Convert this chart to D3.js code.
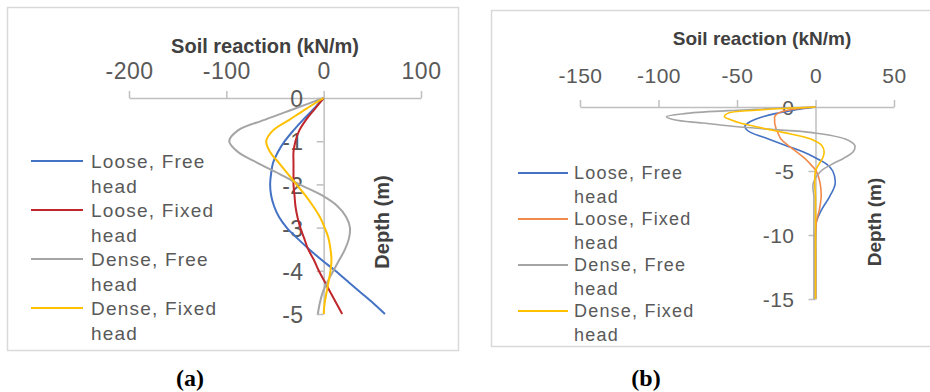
<!DOCTYPE html>
<html><head><meta charset="utf-8">
<script src="https://cdn.jsdelivr.net/npm/d3@7"></script>
<style>
html,body{margin:0;padding:0;background:#fff;}
svg{display:block;}
</style></head>
<body>
<svg id="c" width="930" height="392"></svg>
<script>
// ---------- DATA ----------
const seriesNames = ["Loose, Free head", "Loose, Fixed head", "Dense, Free head", "Dense, Fixed head"];

// Panel (a): depth (m)
const depthA = [0,-0.25,-0.5,-0.75,-1,-1.25,-1.5,-1.75,-2,-2.25,-2.5,-2.75,-3,-3.25,-3.5,-3.75,-4,-4.25,-4.5,-4.75,-5];
const looseFreeA  = [0,-10,-21,-31,-40,-47,-52,-54,-55,-54,-51,-46,-38,-27,-15,-2,12,25,38,51,63];
const looseFixedA = [0,-9,-18,-25,-29,-31,-31,-31,-31,-30,-29,-27,-24,-20,-16,-10,-5,1,7,13,19];
const denseFreeA  = [0,-30,-60,-88,-97,-88,-68,-46,-25,-2,14,23,27,26,22,16,10,4,-1,-4,-6];
const denseFixedA = [0,-18,-35,-52,-59,-55,-46,-37,-28,-19,-11,-4,1,5,7,8,7,5,3,1,0];

// Panel (b): depth (m)
const depthB = [0,-0.25,-0.5,-0.75,-1,-1.25,-1.5,-1.75,-2,-2.5,-3,-3.5,-4,-4.5,-5,-6,-7,-8,-9,-10,-12,-15];
const looseFreeB  = [0,-14,-25,-33,-39,-43,-45,-44,-41,-30,-19,-8,0.5,7.5,11,12.5,9,4,0.5,0,0,0];
const looseFixedB = [0,-18,-24,-26,-26,-26,-25.5,-25,-24,-22,-17.5,-12,-7,-3,0.4,3,3.6,2.5,0.5,0,0,0];
const denseFreeB  = [0,-50,-82,-95,-90,-72,-53,-28,-2,19,25,24,18,10,3.5,-1.5,-1,-1,-1,-1,-1,-1];
const denseFixedB = [0,-38,-56,-58,-54,-48,-39,-30,-20,-3,4,5.5,4.5,2,0,-0.5,0,0,0,0,0,0];

const xTicksA = [-200,-100,0,100];
const yTicksA = [0,-1,-2,-3,-4,-5];
const xTicksB = [-150,-100,-50,0,50];
const yTicksB = [0,-5,-10,-15];

const colorsA = ["#4472C4","#C0272D","#A5A5A5","#FFC000"];
const colorsB = ["#4472C4","#F08A4B","#A5A5A5","#FFC000"];

// ---------- DRAW ----------
const svg = d3.select("#c");
const FONT = "'Liberation Sans', Arial, sans-serif";
const fmt = d => String(d);

// frames
svg.append("rect").attr("x",7.5).attr("y",7.5).attr("width",451).attr("height",343)
  .attr("fill","#fff").attr("stroke","#D9D9D9").attr("stroke-width",1.5);
svg.append("rect").attr("x",491.5).attr("y",10.5).attr("width",450).attr("height",336)
  .attr("fill","#fff").attr("stroke","#D9D9D9").attr("stroke-width",1.5);

function panel(cfg){
  const g = svg.append("g");
  const x = d3.scaleLinear().domain(cfg.xDomain).range(cfg.xRange);
  const y = d3.scaleLinear().domain(cfg.yDomain).range(cfg.yRange);

  // top x axis
  const xa = g.append("g").attr("transform",`translate(0,${cfg.yRange[0]})`)
    .call(d3.axisTop(x).tickValues(cfg.xTicks).tickSize(7).tickSizeOuter(0).tickFormat(fmt));
  xa.select(".domain").attr("stroke","#BFBFBF").attr("stroke-width",1.5);
  xa.selectAll(".tick line").attr("stroke","#BFBFBF").attr("stroke-width",1.5);
  xa.selectAll(".tick text").attr("y",cfg.xLabelDy).attr("dy",null)
    .attr("font-family",FONT).attr("font-size",cfg.tickFont).attr("fill","#595959")
    .attr("letter-spacing",cfg.tickLs);

  // vertical axis at x=0
  const ya = g.append("g").attr("transform",`translate(${x(0)},0)`)
    .call(d3.axisLeft(y).tickValues(cfg.yTicks).tickSize(7).tickSizeOuter(0).tickFormat(fmt));
  ya.select(".domain").attr("stroke","#BFBFBF").attr("stroke-width",1.5);
  ya.selectAll(".tick line").attr("stroke","#BFBFBF").attr("stroke-width",1.5);
  ya.selectAll(".tick text").attr("x",-cfg.yLabelGap).attr("dy","0.38em")
    .attr("font-family",FONT).attr("font-size",cfg.tickFont).attr("fill","#595959")
    .attr("letter-spacing",cfg.tickLs);

  // lines
  const line = d3.line().x(d=>x(d[0])).y(d=>y(d[1])).curve(d3.curveCatmullRom.alpha(0.5));
  cfg.series.forEach((s,i)=>{
    const pts = s.map((v,k)=>[v,cfg.depth[k]]);
    g.append("path").datum(pts).attr("d",line).attr("fill","none")
      .attr("stroke",cfg.colors[i]).attr("stroke-width",cfg.lw);
  });

  // axis titles
  g.append("text").attr("x",cfg.titleX).attr("y",cfg.titleY).attr("text-anchor","middle")
    .attr("font-family",FONT).attr("font-weight","bold").attr("font-size",cfg.titleFont)
    .attr("fill","#404040").text("Soil reaction (kN/m)");
  g.append("text").attr("transform",`translate(${cfg.depthX},${cfg.depthY}) rotate(-90)`)
    .attr("text-anchor","middle").attr("dy","0.35em")
    .attr("font-family",FONT).attr("font-weight","bold").attr("font-size",cfg.titleFont)
    .attr("fill","#404040").text("Depth (m)");

  // legend
  seriesNames.forEach((n,i)=>{
    const ly = cfg.legY0 + i*cfg.legStep;
    g.append("line").attr("x1",cfg.legX1).attr("x2",cfg.legX2).attr("y1",ly).attr("y2",ly)
      .attr("stroke",cfg.colors[i]).attr("stroke-width",2);
    const parts = n.split(" head");
    const t = g.append("text").attr("font-family",FONT).attr("font-size",cfg.legFont)
      .attr("fill","#595959").attr("letter-spacing",cfg.legLs);
    t.append("tspan").attr("x",cfg.legTx).attr("y",ly).attr("dy","0.36em").text(parts[0]);
    t.append("tspan").attr("x",cfg.legTx).attr("y",ly+cfg.legLine).attr("dy","0.36em").text("head");
  });
}

panel({
  xDomain:[-200,100], xRange:[129,421], yDomain:[0,-5], yRange:[98,314],
  xTicks:xTicksA, yTicks:yTicksA, xLabelDy:-19, yLabelGap:20, tickFont:23, tickLs:0.5,
  depth:depthA, series:[looseFreeA,looseFixedA,denseFreeA,denseFixedA], colors:colorsA, lw:2,
  titleX:265, titleY:53, titleFont:20, depthX:382, depthY:222,
  legX1:31, legX2:83, legTx:91, legY0:161, legStep:49, legLine:25, legFont:19, legLs:1.2
});

panel({
  xDomain:[-150,50], xRange:[580,894], yDomain:[0,-15], yRange:[107,299],
  xTicks:xTicksB, yTicks:yTicksB, xLabelDy:-24, yLabelGap:21, tickFont:21, tickLs:0.5,
  depth:depthB, series:[looseFreeB,looseFixedB,denseFreeB,denseFixedB], colors:colorsB, lw:1.6,
  titleX:762, titleY:45, titleFont:19, depthX:874, depthY:222,
  legX1:518, legX2:568, legTx:574, legY0:173, legStep:46, legLine:23.5, legFont:18, legLs:1.2
});

// captions
svg.append("text").attr("x",190).attr("y",386).attr("text-anchor","middle")
  .attr("font-family","'Liberation Serif', 'Times New Roman', serif").attr("font-weight","bold")
  .attr("font-size",24).attr("fill","#000").text("(a)");
svg.append("text").attr("x",646).attr("y",386).attr("text-anchor","middle")
  .attr("font-family","'Liberation Serif', 'Times New Roman', serif").attr("font-weight","bold")
  .attr("font-size",24).attr("fill","#000").text("(b)");
</script>
</body></html>
